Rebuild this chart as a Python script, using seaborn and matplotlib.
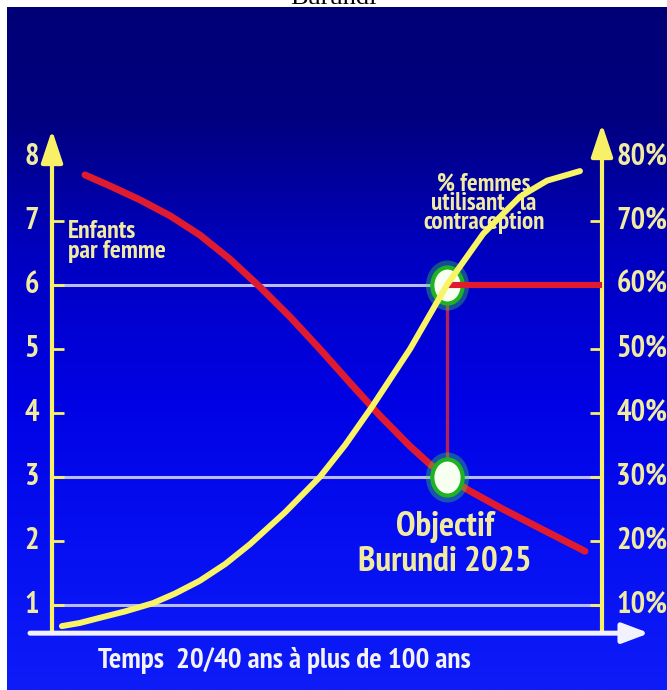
import numpy as np
import pandas as pd
import matplotlib
matplotlib.use("Agg")
import matplotlib.pyplot as plt
import seaborn as sns
from matplotlib import font_manager as fm
from matplotlib.path import Path
from matplotlib.transforms import Affine2D

# --- data -------------------------------------------------------------
# time axis: 0 = start of the transition, 100 = end (arbitrary units)
time_fertility = [6.0, 10.5, 16.0, 21.5, 26.9, 32.4, 37.8, 43.3, 48.7, 54.2,
                  59.6, 65.1, 68.7, 71.8, 76.0, 81.5, 88.7, 96.9]
children_per_woman = [7.72, 7.55, 7.33, 7.08, 6.78, 6.40, 5.97, 5.50, 5.00, 4.47,
                      3.96, 3.48, 3.20, 3.00, 2.78, 2.52, 2.20, 1.84]

time_contraception = [1.8, 5.1, 8.7, 13.3, 18.4, 22.4, 26.9, 31.5, 36.0, 42.4,
                      48.7, 53.3, 58.2, 65.1, 71.8, 78.4, 85.1, 90.0, 96.0]
pct_contraception = [6.7, 7.2, 8.0, 9.0, 10.3, 11.8, 13.8, 16.4, 19.5, 24.5,
                     30.0, 35.0, 41.0, 50.0, 60.0, 68.0, 73.8, 76.3, 77.8]

left_ticks = [1, 2, 3, 4, 5, 6, 7, 8]
right_ticks = [10, 20, 30, 40, 50, 60, 70, 80]
reference_lines = [1, 3, 6]

target_time = 71.8
target_children = 3
target_pct = 60

fertility = pd.DataFrame({"temps": time_fertility, "enfants": children_per_woman})
contraception = pd.DataFrame({"temps": time_contraception, "pct": pct_contraception})


# --- style --------------------------------------------------------------
def _weight(w):
    return w if isinstance(w, (int, float)) else fm.weight_dict.get(w, 400)


def narrow_bold_family():
    """First installed narrow sans family that ships a real bold face."""
    candidates = ["Liberation Sans Narrow", "Arial Narrow", "PT Sans Narrow",
                  "Roboto Condensed", "Archivo Narrow", "Fira Sans Condensed",
                  "IBM Plex Sans Condensed", "Barlow Condensed", "Asap Condensed"]
    faces = fm.fontManager.ttflist
    for name in candidates:
        if any(f.name == name and f.style == "normal" and _weight(f.weight) >= 650
               for f in faces):
            return name
    return "Liberation Sans"


sns.set_style("white")
NARROW = narrow_bold_family()
plt.rcParams["font.family"] = [NARROW, "DejaVu Sans"]

LABEL = "#f1eba2"
AXIS_YELLOW = "#f8f066"
RED = "#e11b2f"
CURVE_YELLOW = "#f9f466"
GRID = "#b8bcf2"

W, H = 667, 690
fig = plt.figure(figsize=(W / 100, H / 100), dpi=100, facecolor="white")
ax = fig.add_axes([0, 0, 1, 1])
ax2 = ax.twinx()

XLIM = (-52 / 5.5, (W - 52) / 5.5)
YLIM = ((669 - H) / 64, 669 / 64)

# blue slide background with a vertical gradient
stops_y = np.array([7, 120, 250, 400, 550, 690])
stops_c = np.array([[0, 0, 118], [0, 0, 128], [0, 0, 192], [0, 2, 228],
                    [6, 16, 242], [14, 28, 248]]) / 255
rows = np.linspace(7, H, 300)
grad = np.stack([np.interp(rows, stops_y, stops_c[:, k]) for k in range(3)], axis=1)
ax.imshow(grad[:, None, :], extent=[(7 - 52) / 5.5, XLIM[1], YLIM[0], (669 - 7) / 64],
          aspect="auto", zorder=-10, interpolation="bilinear")

# reference lines at 1, 3 and 6 children
ax.hlines(reference_lines, 0, 100, color=GRID, lw=2.2, zorder=1)

# axes: two yellow vertical arrows and the white time arrow
arrow_kw = dict(arrowstyle="-|>,head_length=0.9,head_width=0.3", lw=3.0,
                mutation_scale=22, shrinkA=0, shrinkB=0)
ax.annotate("", xy=(0, (669 - 130) / 64), xytext=(0, 0.56),
            arrowprops=dict(color=AXIS_YELLOW, **arrow_kw), zorder=3)
ax.annotate("", xy=(100, (669 - 124) / 64), xytext=(100, 0.56),
            arrowprops=dict(color=AXIS_YELLOW, **arrow_kw), zorder=3)
ax.annotate("", xy=(108.6, 0.56), xytext=(-4.0, 0.56),
            arrowprops=dict(color="#f2f2ff", arrowstyle="-|>,head_length=0.8,head_width=0.3",
                            lw=3.6, mutation_scale=20, shrinkA=0, shrinkB=0), zorder=3)

# tick marks
ax.hlines(left_ticks[:-1], 0, 2.2, color=AXIS_YELLOW, lw=2.0, zorder=3)
ax.hlines(left_ticks[:-1], 97.8, 100, color=AXIS_YELLOW, lw=2.0, zorder=3)

# tick labels
for v in left_ticks:
    ax.text(-3.64, v, str(v), color=LABEL, fontsize=22, fontweight="bold",
            ha="center", va="center", zorder=4)
for p in right_ticks:
    ax.text(102.6, p / 10, f"{p}%", color=LABEL, fontsize=22, fontweight="bold",
            ha="left", va="center", zorder=4)

# annotations
ax.text(2.9, 6.68, "Enfants\npar femme", color=LABEL, fontsize=18.5, fontweight="bold",
        ha="left", va="center", linespacing=0.8, zorder=4)
ax.text(78.5, 7.28, "% femmes\nutilisant   la\ncontraception", color=LABEL, fontsize=18,
        fontweight="bold", ha="center", va="center", multialignment="center",
        linespacing=0.8, zorder=4)
ax.text(71.5, 1.94, "Objectif\nBurundi 2025", color=LABEL, fontsize=25.5, fontweight="bold",
        ha="center", va="center", multialignment="center", linespacing=1.12, zorder=4)
ax.text(8.4, 0.13, "Temps  20/40 ans à plus de 100 ans", color="#f2f2f8", fontsize=21,
        fontweight="bold", ha="left", va="center", zorder=4)

# the two curves
sns.lineplot(data=fertility, x="temps", y="enfants", ax=ax, color=RED, lw=5,
             sort=False, estimator=None, zorder=5, solid_capstyle="round",
             solid_joinstyle="round")
sns.lineplot(data=contraception, x="temps", y="pct", ax=ax2, color=CURVE_YELLOW, lw=4.3,
             sort=False, estimator=None, zorder=6, solid_capstyle="round",
             solid_joinstyle="round")

# target: 60 % contraception -> 3 children per woman
ax2.hlines(target_pct, target_time, 100, color=RED, lw=4.4, zorder=4)
ax.vlines(target_time, target_children, target_pct / 10, color="#b3205c", lw=2.4, zorder=4)

oval = Path.unit_circle().transformed(Affine2D().scale(0.84, 1.0))
for yv in (target_children, target_pct / 10):
    ax.plot([target_time], [yv], marker=oval, ms=31, mfc="none", mec="#3fe03a",
            mew=5, alpha=0.35, zorder=7)
    ax.plot([target_time], [yv], marker=oval, ms=26, mfc="#f6fff0", mec="#1fb324",
            mew=3.0, zorder=8)

for a in (ax, ax2):
    a.set_xlim(*XLIM)
    a.axis("off")
ax.set_ylim(*YLIM)
ax2.set_ylim(YLIM[0] * 10, YLIM[1] * 10)

# slide title, partly cut off by the top edge
fig.text(0.5, (H - 4.0) / H, "Burundi", family="Liberation Serif", fontsize=19,
         color="black", ha="center", va="baseline")

fig.savefig("out.png", dpi=100, facecolor="white")
